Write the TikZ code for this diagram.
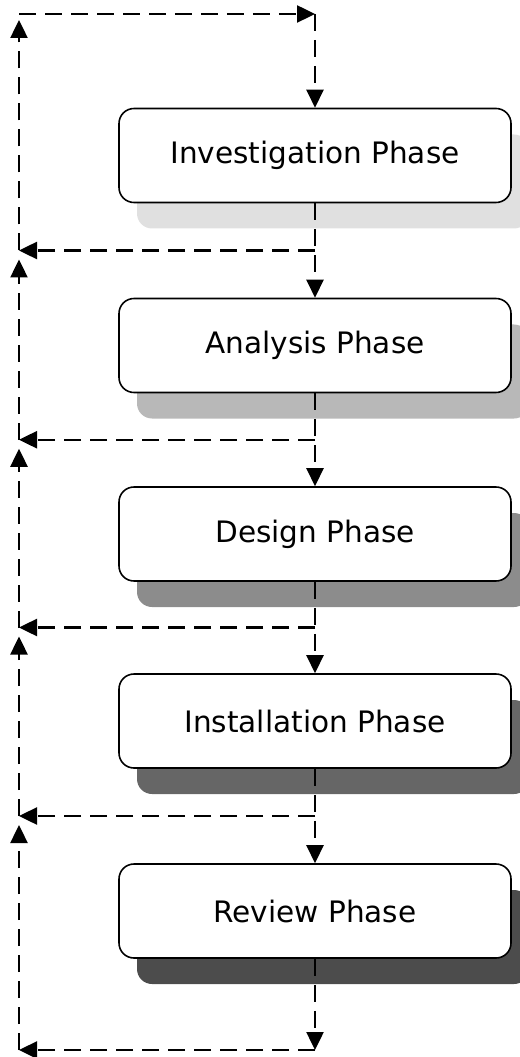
\documentclass[tikz,border=0pt]{standalone}
\usepackage{fontspec}
\setmainfont{DejaVu Sans}
\usetikzlibrary{arrows.meta,calc,shadows}

\tikzset{
  phase/.style={draw, line width=0.9pt, rounded corners=0.3cm, fill=white,
    minimum width=7.84cm, minimum height=1.88cm,
    font=\fontsize{16.8}{20}\selectfont},
  every shadow/.style={shadow xshift=0.36cm, shadow yshift=-0.52cm, opacity=1},
  flow/.style={line width=1.4pt, dash pattern=on 0.34cm off 0.18cm,
    -{Triangle[length=0.36cm,width=0.34cm]}},
}

\begin{document}
\begin{tikzpicture}
\useasboundingbox (0,0) rectangle (10.4,-21.14);
\clip (0,0) rectangle (10.4,-21.14);
%\draw [lightgray](0,0) grid (10,-21);

\node [phase, drop shadow={fill=black!12}] (inv) at (6.3, -3.11) {Investigation Phase};
\node [phase, drop shadow={fill=black!28}] (ana) at (6.3, -6.91) {Analysis Phase};
\node [phase, drop shadow={fill=black!45}] (des) at (6.3,-10.68) {Design Phase};
\node [phase, drop shadow={fill=black!60}] (ins) at (6.3,-14.42) {Installation Phase};
\node [phase, drop shadow={fill=black!70}] (rev) at (6.3,-18.22) {Review Phase};

\coordinate (topl) at (0.38,-0.28);   % corner top left
\coordinate (top)  at (6.3,-0.28);    % corner top right
\coordinate (bot)  at (6.3,-21.0);    % corner bottom
\coordinate (j1) at ($(inv.south)!0.5!(ana.north)$);
\coordinate (j2) at ($(ana.south)!0.5!(des.north)$);
\coordinate (j3) at ($(des.south)!0.5!(ins.north)$);
\coordinate (j4) at ($(ins.south)!0.5!(rev.north)$);

% forward
\draw [flow] (top) -- (inv.north);
\draw [flow] (inv.south) -- (ana.north);
\draw [flow] (ana.south) -- (des.north);
\draw [flow] (des.south) -- (ins.north);
\draw [flow] (ins.south) -- (rev.north);
\draw [flow] (rev.south) -- (bot);

% back to the left
\draw [flow] (j1) -- (j1 -| topl);
\draw [flow] (j2) -- (j2 -| topl);
\draw [flow] (j3) -- (j3 -| topl);
\draw [flow] (j4) -- (j4 -| topl);
\draw [flow] (bot) -- (bot -| topl);

% left line upwards
\draw [flow, shorten >=0.18cm] (bot -| topl) -- (j4 -| topl);
\draw [flow, shorten >=0.18cm] (j4 -| topl) -- (j3 -| topl);
\draw [flow, shorten >=0.18cm] (j3 -| topl) -- (j2 -| topl);
\draw [flow, shorten >=0.18cm] (j2 -| topl) -- (j1 -| topl);
\draw [flow, shorten >=0.12cm] (j1 -| topl) -- (topl);
\draw [flow] (topl) -- (top);

\end{tikzpicture}
\end{document}
